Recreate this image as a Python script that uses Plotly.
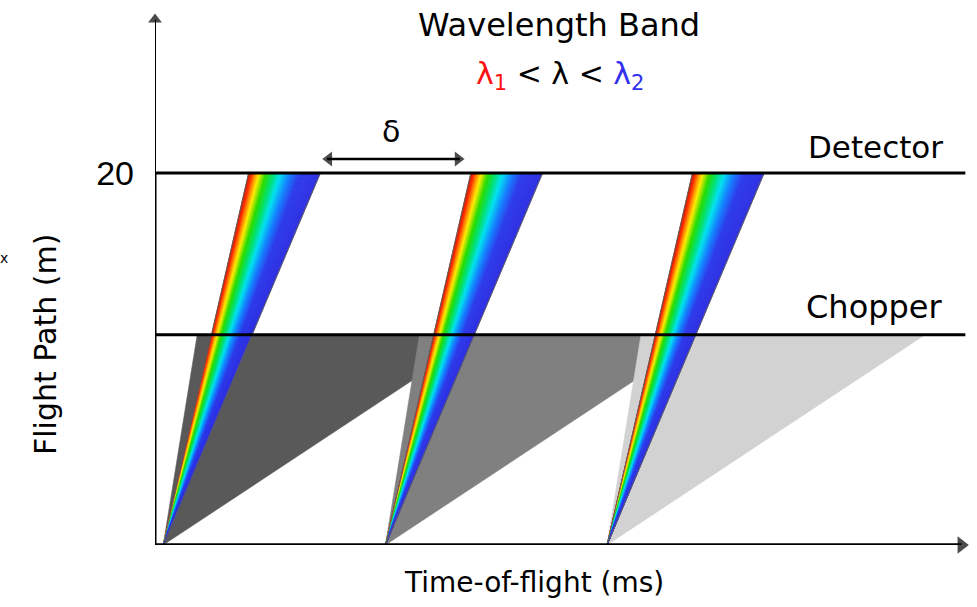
import plotly.graph_objects as go

# ---------------- data ----------------
pulse_starts = [0.37, 10.38, 20.36]      # ms, source pulse times
detector_dist = 20.0                      # m
chopper_dist = 11.3                       # m
lam1_arrival = 3.85                       # ms after pulse (lambda1) at detector
lam2_arrival = 7.08                       # ms after pulse (lambda2) at detector
chop_fast = 1.53                          # ms after pulse: fastest edge at chopper
chop_slow = 14.33                         # ms after pulse: slowest edge at chopper
gray_colors = ["#595959", "#808080", "#d2d2d2"]
x_max = 36.62
y_max = 28.65
line_end = 36.5
y_tick_vals = [20]
y_tick_text = ["20"]

rainbow_stops = [(0.0, (200, 16, 0)), (0.05, (255, 48, 0)), (0.10, (255, 150, 0)),
                 (0.15, (255, 235, 0)), (0.25, (40, 220, 0)), (0.35, (0, 225, 110)),
                 (0.45, (0, 225, 240)), (0.58, (20, 130, 255)), (0.72, (45, 60, 235)),
                 (1.0, (48, 48, 225))]

def rb(f):
    for (a, ca), (b, cb) in zip(rainbow_stops[:-1], rainbow_stops[1:]):
        if a <= f <= b:
            t = (f - a) / (b - a)
            c = [round(ca[k] + t * (cb[k] - ca[k])) for k in range(3)]
            return "rgb(%d,%d,%d)" % tuple(c)
    return "rgb(48,48,225)"

FONT = "DejaVu Sans"
fig = go.Figure()

# gray chopper-window triangles
for s, col in zip(pulse_starts, gray_colors):
    fig.add_trace(go.Scatter(
        x=[s, s + chop_fast, s + chop_slow, s],
        y=[0, chopper_dist, chopper_dist, 0],
        fill="toself", fillcolor=col, mode="lines",
        line=dict(width=0.5, color=col), hoverinfo="skip", showlegend=False))

# rainbow fans
N = 70
for i in range(N):
    f0, f1 = i / N, (i + 1) / N
    xs, ys = [], []
    for s in pulse_starts:
        t0 = lam1_arrival + f0 * (lam2_arrival - lam1_arrival)
        t1 = lam1_arrival + f1 * (lam2_arrival - lam1_arrival)
        xs += [s, s + t0, s + t1, s, None]
        ys += [0, detector_dist, detector_dist, 0, None]
    col = rb((f0 + f1) / 2)
    fig.add_trace(go.Scatter(x=xs, y=ys, fill="toself", fillcolor=col, mode="lines",
                             line=dict(width=0.8, color=col), hoverinfo="skip",
                             showlegend=False))
# fan outlines
for s in pulse_starts:
    fig.add_trace(go.Scatter(x=[s + lam1_arrival, s, s + lam2_arrival],
                             y=[detector_dist, 0, detector_dist], mode="lines",
                             line=dict(width=1, color="#606060"), hoverinfo="skip",
                             showlegend=False))

# delta arrow endpoints (between lambda2 of pulse 1 and lambda1 of pulse 2)
d_left = pulse_starts[0] + lam2_arrival + 0.1
d_right = pulse_starts[1] + lam1_arrival - 0.3
d_y = 20.75

shapes = [
    dict(type="line", x0=0, x1=line_end, y0=detector_dist, y1=detector_dist,
         line=dict(color="black", width=3)),
    dict(type="line", x0=0, x1=line_end, y0=chopper_dist, y1=chopper_dist,
         line=dict(color="black", width=3)),
    dict(type="line", x0=0, x1=x_max - 0.3, y0=0, y1=0, line=dict(color="black", width=3.5)),
    dict(type="line", x0=0, x1=0, y0=0, y1=detector_dist, line=dict(color="black", width=3)),
    dict(type="line", x0=0, x1=0, y0=detector_dist, y1=y_max - 0.4, line=dict(color="black", width=2)),
    dict(type="line", x0=d_left + 0.2, x1=d_right - 0.2, y0=d_y, y1=d_y,
         line=dict(color="black", width=2.5)),
]

# arrow heads as markers
fig.add_trace(go.Scatter(
    x=[x_max - 0.3, 0, d_left + 0.28, d_right - 0.28],
    y=[0, y_max - 0.4, d_y, d_y],
    mode="markers",
    marker=dict(symbol=["triangle-right", "triangle-up", "triangle-left", "triangle-right"],
                size=[15, 12, 13, 13], color="black", line=dict(width=0)),
    cliponaxis=False, hoverinfo="skip", showlegend=False))

def px_to_dom(px, py):
    return (px - 155) / 813, (545 - py) / 533

annotations = [
    dict(x=(d_left + d_right) / 2 - 0.1, y=22.25, xref="x", yref="y", text="δ",
         showarrow=False, xanchor="center", yanchor="middle",
         font=dict(family=FONT, size=30, color="black")),
    dict(x=35.6, y=21.4, xref="x", yref="y", text="Detector", xanchor="right", yanchor="middle",
         showarrow=False, font=dict(family=FONT, size=31, color="black")),
    dict(x=35.6, y=12.8, xref="x", yref="y", text="Chopper", xanchor="right", yanchor="middle",
         showarrow=False, font=dict(family=FONT, size=32, color="black")),
]
paper_texts = [
    (559, 25, "Wavelength Band", 32, 0),
    (560, 75, '<span style="color:#ff1010">λ<sub>1</sub></span> < λ < '
              '<span style="color:#3030ee">λ<sub>2</sub></span>', 30, 0),
    (534, 582, "Time-of-flight (ms)", 28, 0),
    (45, 345, "Flight Path (m)", 30, -90),
    (4, 258, "x", 14, 0),
]
for px, py, txt, sz, ang in paper_texts:
    xd, yd = px_to_dom(px, py)
    annotations.append(dict(x=xd, y=yd, xref="paper", yref="paper", text=txt,
                            xanchor="center", yanchor="middle", textangle=ang,
                            showarrow=False, font=dict(family=FONT, size=sz, color="black")))

fig.update_layout(
    width=977, height=607, margin=dict(l=155, r=9, t=12, b=62),
    paper_bgcolor="white", plot_bgcolor="white",
    xaxis=dict(range=[0, x_max], showgrid=False, zeroline=False, showline=False,
               showticklabels=False, ticks=""),
    yaxis=dict(range=[0, y_max], showgrid=False, zeroline=False, showline=False,
               tickvals=y_tick_vals, ticktext=y_tick_text, ticks="",
               tickfont=dict(family="Liberation Sans", size=34, color="black"),
               ticklabelstandoff=20),
    shapes=shapes, annotations=annotations, showlegend=False,
)
fig.write_html("out.html")
